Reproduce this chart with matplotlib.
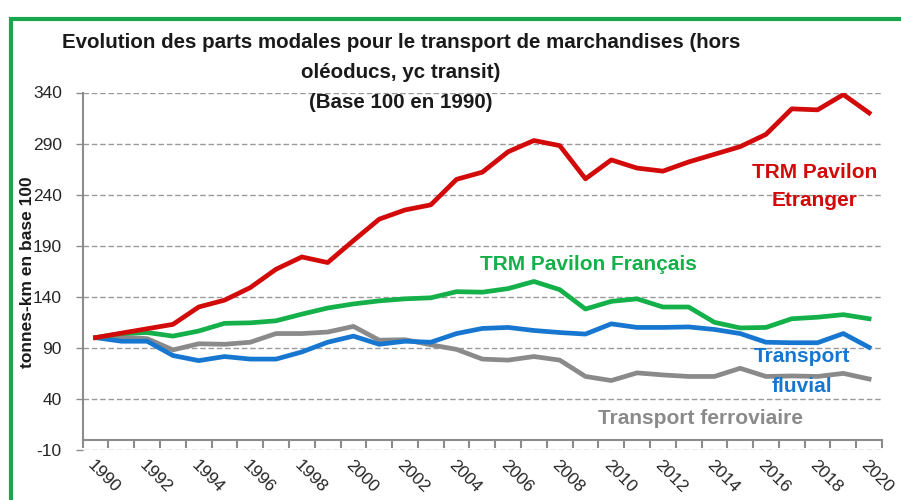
import matplotlib
matplotlib.use("Agg")
import matplotlib.pyplot as plt
from matplotlib.lines import Line2D

plt.rcParams['font.family'] = ['Liberation Sans', 'DejaVu Sans']
plt.rcParams['axes.unicode_minus'] = False

years = list(range(1990, 2021))
tick_labels = [str(y) for y in years[::2]]

trm_etranger = [100, 104.4, 108.7, 113, 130, 136.7, 149, 167, 179, 173.5, 195,
                216, 225, 230, 255, 262, 282, 293, 288, 255.5, 274, 266, 263,
                272, 279.5, 287, 299, 324, 323, 338, 320]
trm_francais = [100, 104, 105, 101.5, 106.5, 114, 114.5, 116.5, 123, 129, 133,
                136, 138, 139, 145, 144.5, 148, 155, 147, 128, 135.5, 138, 130,
                130, 115, 109.5, 110, 118.5, 120, 122.5, 118.5]
fluvial = [100, 96.5, 96.5, 82.5, 77.5, 81.5, 79, 79, 86, 95.5, 101.5, 93.5,
           96.5, 95.5, 104, 109, 110, 107, 105, 103.5, 113.5, 110, 110, 110.5,
           108, 104, 95.5, 95, 95, 104, 90.5]
ferroviaire = [100, 100.5, 99, 88, 94, 93.5, 95.5, 104, 104, 105.5, 111, 97.5,
               98, 93, 88.5, 79, 78, 81.5, 78, 62, 58, 65.5, 63.5, 62, 62, 70,
               62, 62.5, 62, 65, 59.5]

c_red = '#D20A0A'
c_green = '#14B04A'
c_blue = '#1777D0'
c_gray = '#8A8A8A'
c_axis = '#8C8C8C'

fig = plt.figure(figsize=(9.01, 5.0), dpi=100)
ax = fig.add_axes([82.7/901, 1-450/500, (882-82.7)/901, (450-92.5)/500])

x = list(range(len(years)))
lw = 3.4
ax.plot(x, ferroviaire, color=c_gray, lw=lw, zorder=3)
ax.plot(x, fluvial, color=c_blue, lw=lw, zorder=4)
ax.plot(x, trm_francais, color=c_green, lw=lw, zorder=5)
ax.plot(x, trm_etranger, color=c_red, lw=lw, zorder=6)

ax.set_xlim(-0.5, len(years) - 0.5)
ax.set_ylim(-10, 340)
ax.set_yticks(range(-10, 341, 50))
ax.yaxis.grid(True, color='#9A9A9A', linestyle=(0, (4, 2)), lw=1)
ax.set_axisbelow(True)

for s in ['top', 'right']:
    ax.spines[s].set_visible(False)
ax.spines['bottom'].set_position(('data', 0))
ax.spines['bottom'].set_color(c_axis)
ax.spines['bottom'].set_linewidth(1.5)
ax.spines['left'].set_bounds(0, 340)
ax.spines['left'].set_color(c_axis)
ax.spines['left'].set_linewidth(1.5)

ax.set_xticks(x[::2])
ax.set_xticklabels(tick_labels, rotation=-45, ha='left', va='top',
                   rotation_mode='anchor', fontsize=12.5, color='#262626')
ax.set_xticks([i - 0.5 for i in range(len(years) + 1)], minor=True)
ax.tick_params(axis='x', which='major', length=0, pad=13)
ax.tick_params(axis='x', which='minor', length=6, width=1.5, color=c_axis)
ax.tick_params(axis='y', length=5, width=1, color=c_axis, labelsize=12.5,
               labelcolor='#262626', pad=10)

fig.text(28/901, 1-272/500, 'tonnes-km en base 100', rotation=90,
         ha='center', va='center', fontsize=12.5, fontweight='bold',
         color='#1a1a1a')

title_lines = ['Evolution des parts modales pour le transport de marchandises (hors',
               'oléoducs, yc transit)', '(Base 100 en 1990)']
for t, yy in zip(title_lines, [43, 72, 102]):
    fig.text(401/901, 1-yy/500, t, ha='center', va='center', fontsize=14.8,
             fontweight='bold', color='#1a1a1a')

lbl = dict(ha='center', va='center', fontweight='bold', fontsize=15)
fig.text(815/901, 1-172/500, 'TRM Pavilon', color=c_red, **lbl)
fig.text(815/901, 1-201/500, 'Etranger', color=c_red, **lbl)
fig.text(588/901, 1-264/500, 'TRM Pavilon Français', color=c_green, **lbl)
fig.text(802/901, 1-356/500, 'Transport', color=c_blue, **lbl)
fig.text(802/901, 1-386/500, 'fluvial', color=c_blue, **lbl)
fig.text(701/901, 1-418/500, 'Transport ferroviaire', color=c_gray, **lbl)

border = Line2D([11.3/901, 11.3/901, 1.0], [0.0, 1-18.7/500, 1-18.7/500],
                transform=fig.transFigure, color='#1AA64F', lw=3,
                solid_joinstyle='miter')
fig.add_artist(border)

fig.savefig('out.png', dpi=100, facecolor='white')
